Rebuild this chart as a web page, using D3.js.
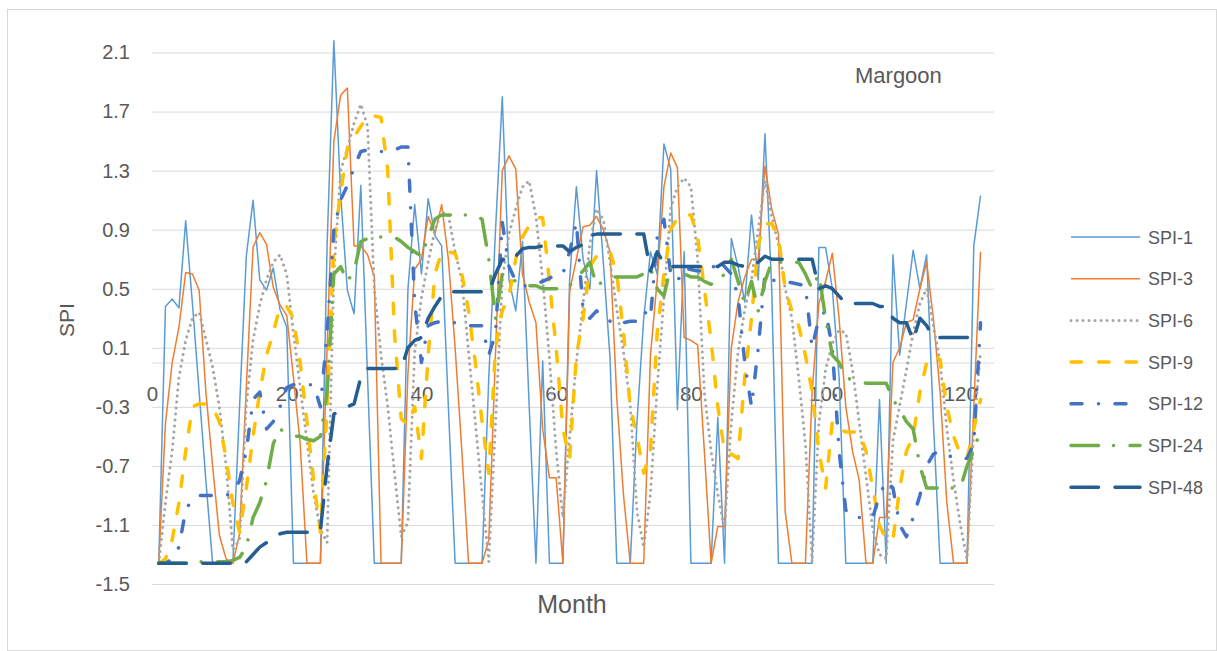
<!DOCTYPE html>
<html>
<head>
<meta charset="utf-8">
<script src="https://cdn.jsdelivr.net/npm/d3@7"></script>
<style>
	body { margin: 0; background: #fff; }
	text { font-family: "Liberation Sans", Arial, sans-serif; fill: #595959; }
</style>
</head>
<body>
<svg width="1217" height="651"></svg>
<script>
// ticks
var xTicks = [0, 20, 40, 60, 80, 100, 120];
var yTicks = [-1.5, -1.1, -0.7, -0.3, 0.1, 0.5, 0.9, 1.3, 1.7, 2.1];

// series, one value per month starting at month 1
var spi1 = [
	-1.36,0.38,0.43,0.37,0.96,0.4,-0.2,-0.8,-1.36,-1.36,
	-1.36,-1.36,-0.3,0.72,1.1,0.56,0.49,0.64,0.36,0.24,
	-1.36,-1.36,-1.36,-1.36,-1.36,0.8,2.18,1.14,0.49,0.33,
	1.2,-0.1,-1.36,-1.36,-1.36,-1.36,-1.36,0.5,1.07,0.6,
	1.11,0.86,0.79,-0.3,-1.36,-1.36,-1.36,-1.36,-1.36,-0.1,
	0.9,1.8,0.56,0.35,0.82,-0.3,-1.36,0.01,-1.36,-1.36,
	-1.36,0.56,1.19,0.7,0.5,1.3,0.68,0.03,-1.36,-1.36,
	-1.36,-0.4,0.3,0.75,0.6,1.48,1.31,-0.32,0.75,-1.36,
	-1.36,-1.36,-1.36,-0.37,-1.36,0.84,0.65,0.41,1.0,0.56,
	1.55,0.5,-1.36,-1.36,-1.36,-1.36,-1.36,-1.36,0.78,0.78,
	0.5,-0.1,-1.36,-1.36,-1.36,-1.36,-1.36,-0.25,-1.36,0.73,
	0.05,0.4,0.76,0.5,0.73,-0.4,-1.36,-1.36,-1.36,-1.36,
	-1.36,0.79,1.13];

var spi3 = [
	-1.36,-0.41,0.0,0.24,0.61,0.6,0.49,-0.2,-0.7,-1.17,
	-1.33,-1.36,-1.16,-0.17,0.78,0.88,0.8,0.51,0.39,0.32,
	-0.1,-0.55,-1.36,-1.36,-1.36,0.1,1.5,1.81,1.86,0.79,
	0.79,0.73,0.58,-1.36,-1.36,-1.36,-1.36,-0.07,0.63,0.7,
	0.99,0.87,1.07,0.7,0.1,-0.6,-1.36,-1.36,-1.36,-1.2,
	0.07,1.3,1.4,1.31,0.6,0.41,0.27,-0.45,-0.78,-0.78,
	-1.36,0.48,0.7,0.92,0.93,0.99,0.9,0.75,-0.24,-0.9,
	-1.36,-1.36,-1.36,0.05,0.56,1.19,1.42,1.32,0.17,0.15,
	0.12,-0.6,-1.36,-1.11,-1.11,0.1,0.41,0.58,0.7,0.7,
	1.33,1.04,0.87,-1.01,-1.36,-1.36,-1.36,-0.2,0.4,0.55,
	0.74,0.3,-0.3,-0.6,-0.8,-1.36,-1.36,-1.05,-1.05,0.0,
	0.1,0.27,0.29,0.5,0.68,0.3,-0.2,-0.95,-1.36,-1.36,
	-1.36,-0.3,0.75];

var spi6 = [
	-1.36,-0.95,-0.6,-0.1,0.15,0.3,0.34,0.16,-0.03,-0.3,
	-0.7,-1.27,-1.2,-0.29,0.15,0.39,0.56,0.68,0.73,0.6,
	0.2,-0.17,-0.53,-0.89,-1.13,-1.22,0.6,1.3,1.45,1.62,
	1.75,1.6,0.5,0.05,-0.3,-0.75,-1.18,-1.08,0.07,0.44,
	0.68,0.9,1.02,1.0,0.75,0.56,0.07,-0.41,-0.89,-1.35,
	-0.41,0.56,0.87,1.04,1.19,1.23,0.99,0.56,0.03,-0.6,
	-1.05,-0.5,0.0,0.4,0.8,1.04,0.97,0.68,0.36,0.07,
	-0.29,-1.01,-1.25,-0.89,-0.17,0.44,1.04,1.19,1.25,1.19,
	0.7,-0.2,-0.6,-0.89,-1.13,-0.41,0.07,0.36,0.56,0.9,
	1.23,0.99,0.8,0.5,0.3,-0.1,-0.55,-1.35,-0.41,-0.05,
	0.13,0.22,0.2,-0.05,-0.41,-0.77,-1.13,-1.3,-1.33,-0.53,
	-0.29,-0.05,0.2,0.4,0.5,0.25,0.0,-0.45,-0.8,-1.1,
	-1.33,-0.45,0.07];

var spi9 = [
	-1.36,-1.33,-1.2,-0.95,-0.6,-0.3,-0.28,-0.28,-0.3,-0.4,
	-0.65,-0.95,-1.15,-0.85,-0.5,-0.2,0.05,0.2,0.38,0.38,
	0.3,0.0,-0.4,-0.8,-1.15,-0.3,0.8,1.15,1.45,1.53,
	1.6,1.67,1.67,1.66,1.3,0.2,-0.38,-0.42,-0.3,-0.65,
	0.05,0.6,0.75,0.75,0.74,0.6,0.35,0.0,-0.4,-0.75,
	0.1,0.35,0.45,0.7,0.85,0.93,0.98,0.98,0.55,0.1,
	-0.45,-0.65,0.05,0.3,0.65,0.72,0.75,0.75,0.6,0.2,
	-0.3,-0.5,-0.75,-0.6,0.2,0.6,0.9,0.98,1.0,1.0,
	0.85,0.5,0.15,-0.3,-0.6,-0.62,-0.65,-0.1,0.3,0.8,
	0.94,0.94,0.85,0.5,0.35,0.25,0.05,-0.2,-0.6,-0.85,
	-0.4,-0.45,-0.47,-0.47,-0.47,-0.6,-0.85,-1.1,-1.2,-1.2,
	-0.85,-0.6,-0.5,-0.2,0.0,0.05,0.02,-0.3,-0.5,-0.62,
	-0.65,-0.45,-0.25];

var spi12 = [
	-1.36,-1.36,-1.33,-1.25,-1.0,-0.92,-0.9,-0.9,-0.9,-0.9,
	-0.9,-0.88,-0.8,-0.6,-0.25,-0.2,-0.45,-0.4,-0.3,-0.17,
	-0.15,-0.15,-0.15,-0.15,-0.3,0.2,0.9,1.1,1.2,1.32,
	1.43,1.44,1.43,1.43,1.43,1.44,1.46,1.46,0.4,0.0,
	0.25,0.27,0.28,0.27,0.27,0.26,0.25,0.25,0.25,0.05,
	0.2,0.95,0.65,0.55,0.52,0.52,0.53,0.55,0.57,0.6,
	0.6,0.75,0.95,0.35,0.3,0.35,0.3,0.28,0.25,0.27,
	0.28,0.28,0.35,0.3,0.85,0.97,0.6,0.55,0.64,0.63,
	0.62,0.62,0.62,0.7,0.65,0.6,0.45,0.0,-0.3,0.1,
	0.6,0.56,0.55,0.55,0.54,0.53,0.52,0.1,0.3,0.35,
	0.1,-0.6,-1.0,-1.05,-1.05,-1.05,-1.05,-0.9,-0.8,-0.85,
	-1.1,-1.18,-1.05,-0.9,-0.7,-0.62,-0.6,-0.62,-0.65,-0.65,
	-0.65,-0.55,0.27];

var spi24 = [
	-1.36,-1.36,-1.36,-1.36,-1.36,-1.36,-1.35,-1.35,-1.35,-1.35,
	-1.35,-1.34,-1.32,-1.25,-1.05,-0.95,-0.8,-0.55,-0.45,-0.48,
	-0.5,-0.5,-0.52,-0.53,-0.5,-0.2,0.6,0.65,0.55,0.62,
	0.82,0.84,0.85,0.85,0.85,0.85,0.82,0.78,0.75,0.72,
	0.85,0.97,1.0,1.0,1.0,1.0,1.0,1.0,0.97,0.7,
	0.3,0.6,0.58,0.55,0.52,0.52,0.52,0.5,0.5,0.5,
	0.5,0.52,0.58,0.62,0.68,0.52,0.55,0.58,0.58,0.58,
	0.58,0.58,0.6,0.64,0.5,0.45,0.65,0.62,0.6,0.58,
	0.58,0.55,0.53,0.55,0.6,0.7,0.55,0.4,0.55,0.35,
	0.55,0.68,0.68,0.68,0.68,0.68,0.6,0.5,0.6,0.3,
	0.05,0.0,-0.1,-0.12,-0.13,-0.14,-0.14,-0.14,-0.14,-0.25,
	-0.32,-0.4,-0.45,-0.7,-0.85,-0.85,-0.85,-0.85,-0.85,-0.85,
	-0.7,-0.6,-0.45];

var spi48 = [
	-1.36,-1.36,-1.36,-1.36,-1.36,-1.36,-1.36,-1.36,-1.36,-1.36,
	-1.36,-1.36,-1.36,-1.35,-1.3,-1.25,-1.22,-1.18,-1.16,-1.15,
	-1.15,-1.15,-1.15,-1.15,-1.14,-0.7,-0.35,-0.32,-0.3,-0.28,
	-0.1,-0.04,-0.04,-0.04,-0.04,-0.04,-0.04,0.1,0.15,0.17,
	0.3,0.38,0.45,0.48,0.48,0.48,0.48,0.48,0.48,0.48,
	0.6,0.7,0.68,0.72,0.77,0.78,0.78,0.79,0.79,0.79,
	0.79,0.75,0.78,0.8,0.86,0.87,0.87,0.87,0.87,0.87,
	0.87,0.87,0.87,0.62,0.75,0.67,0.65,0.65,0.65,0.65,
	0.65,0.65,0.65,0.65,0.68,0.68,0.66,0.65,0.65,0.68,
	0.72,0.7,0.7,0.7,0.7,0.7,0.7,0.7,0.5,0.52,
	0.5,0.45,0.4,0.4,0.4,0.4,0.4,0.38,0.38,0.3,
	0.27,0.27,0.15,0.3,0.25,0.17,0.17,0.17,0.17,0.17,
	0.17,0.17,0.17];

var seriesNames = ["SPI-1", "SPI-3", "SPI-6", "SPI-9", "SPI-12", "SPI-24", "SPI-48"];
var seriesValues = [spi1, spi3, spi6, spi9, spi12, spi24, spi48];

// line looks, in the same order as the series
var styles = [
	{color: "#5B9BD5", width: 1.5, dash: null},
	{color: "#ED7D31", width: 1.5, dash: null},
	{color: "#A5A5A5", width: 3, dash: "0.01,6"},
	{color: "#FFC000", width: 3.5, dash: "10.5,17"},
	{color: "#4472C4", width: 3.5, dash: "11,16.5,0.01,16.5"},
	{color: "#70AD47", width: 3.5, dash: "27.5,15,0.01,16.5"},
	{color: "#255E91", width: 3.5, dash: "27.5,16.5"}
];

var svg = d3.select("svg");

svg.append("rect")
	.attr("x", 0).attr("y", 0)
	.attr("width", 1217).attr("height", 651)
	.attr("fill", "#fff");

// chart border
svg.append("rect")
	.attr("x", 7.5).attr("y", 9.5)
	.attr("width", 1209).attr("height", 641)
	.attr("fill", "none")
	.attr("stroke", "#D9D9D9");

var x = d3.scaleLinear().domain([0, 125]).range([152, 994]);
var y = d3.scaleLinear().domain([-1.5, 2.1]).range([584, 52.5]);

// horizontal gridlines + y labels
var yAxis = svg.append("g")
	.attr("transform", "translate(152,0)")
	.call(d3.axisLeft(y)
		.tickValues(yTicks)
		.tickSize(-(994 - 152))
		.tickPadding(22)
		.tickFormat(function(d) { return d.toFixed(1); }));
yAxis.select(".domain").remove();
yAxis.selectAll("line").attr("stroke", "#D9D9D9");
yAxis.selectAll("text")
	.style("font-size", "20px")
	.attr("fill", "#595959");

// x axis sits on zero
var xAxis = svg.append("g")
	.attr("transform", "translate(0," + y(0) + ")")
	.call(d3.axisBottom(x)
		.tickValues(xTicks)
		.tickSize(0)
		.tickPadding(24));
xAxis.select(".domain").attr("stroke", "#D9D9D9");
xAxis.selectAll("text")
	.style("font-size", "20.5px")
	.attr("fill", "#595959");

var line = d3.line()
	.x(function(d, i) { return x(i + 1); })
	.y(function(d) { return y(d); });

var plot = svg.append("g");
seriesValues.forEach(function(vals, k) {
	var st = styles[k];
	plot.append("path")
		.datum(vals)
		.attr("fill", "none")
		.attr("stroke", st.color)
		.attr("stroke-width", st.width)
		.attr("stroke-linejoin", "round")
		.attr("stroke-linecap", st.dash ? "round" : "butt")
		.attr("stroke-dasharray", st.dash)
		.attr("d", line);
});

// axis titles
svg.append("text")
	.attr("x", 572).attr("y", 613)
	.attr("text-anchor", "middle")
	.style("font-size", "25px")
	.text("Month");

svg.append("text")
	.attr("transform", "translate(74,320) rotate(-90)")
	.attr("text-anchor", "middle")
	.style("font-size", "21px")
	.text("SPI");

svg.append("text")
	.attr("x", 855).attr("y", 83)
	.style("font-size", "22px")
	.text("Margoon");

// legend
var legend = svg.append("g").attr("transform", "translate(1071,237)");
seriesNames.forEach(function(name, k) {
	var st = styles[k];
	var row = legend.append("g").attr("transform", "translate(0," + (k * 41.7) + ")");
	row.append("line")
		.attr("x1", 0).attr("x2", 69)
		.attr("y1", 0).attr("y2", 0)
		.attr("stroke", st.color)
		.attr("stroke-width", st.width)
		.attr("stroke-linecap", st.dash ? "round" : "butt")
		.attr("stroke-dasharray", st.dash);
	row.append("text")
		.attr("x", 77).attr("y", 6.5)
		.style("font-size", "18px")
		.text(name);
});
</script>
</body>
</html>
